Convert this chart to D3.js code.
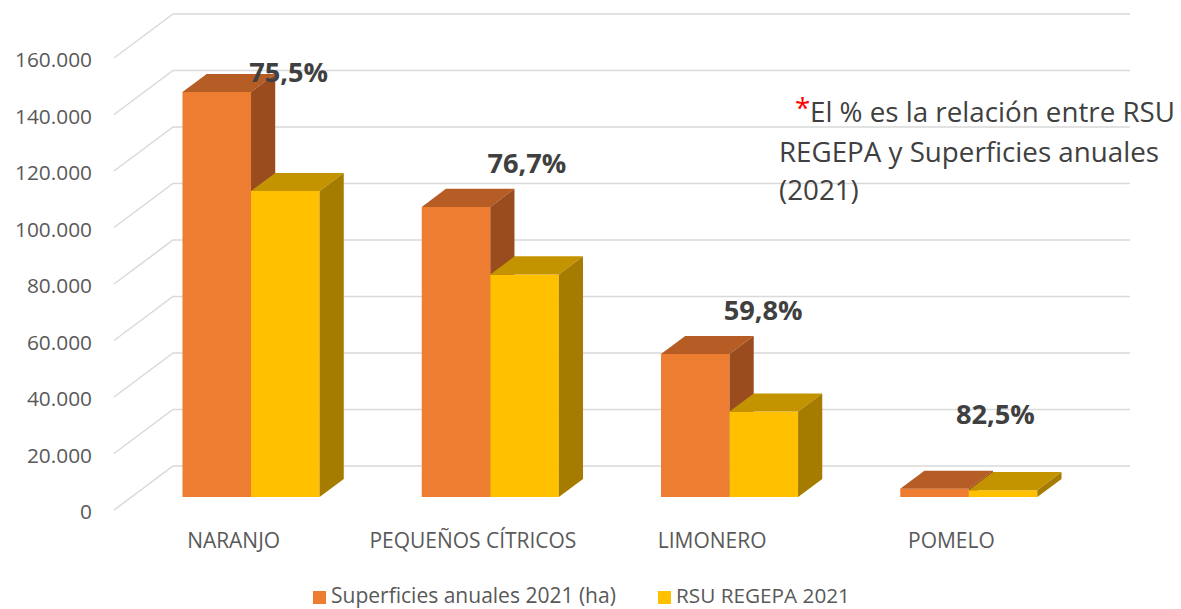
<!DOCTYPE html>
<html>
<head>
<meta charset="utf-8">
<script src="https://cdn.jsdelivr.net/npm/d3@7"></script>
<style>
  html, body { margin: 0; padding: 0; background: #ffffff; }
  svg { display: block; font-family: "Open Sans", "Noto Sans", sans-serif; }
</style>
</head>
<body>
<script>
// ---------------- DATA ----------------
const categories = ["NARANJO", "PEQUEÑOS CÍTRICOS", "LIMONERO", "POMELO"];
const seriesNames = ["Superficies anuales 2021 (ha)", "RSU REGEPA 2021"];
const superficies = [143400, 102700, 50600, 2950];
const rsu = [108300, 78800, 30300, 2430];
const pctLabels = ["75,5%", "76,7%", "59,8%", "82,5%"];
const yTicks = [0, 20000, 40000, 60000, 80000, 100000, 120000, 140000, 160000];
const noteLines = ["El % es la relación entre RSU", "REGEPA y Superficies anuales", "(2021)"];

// ---------------- LAYOUT ----------------
const W = 1181, H = 609;
const plotL = 114, plotR = 1071, yBase = 510, yTopPx = 58;
const DX = 59, DY = -44;            // depth vector of the floor
const zFront = 0.295, zBack = 0.705; // bar depth position (fraction of floor depth)
const pctLabelLayout = [{dx: 55, v: 151500}, {dx: 54, v: 119300}, {dx: 51, v: 67260}, {dx: 44, v: 30440}];
const colors = {
  front: ["#ED7D31", "#FFC000"],
  top:   ["#B65C25", "#C49300"],
  side:  ["#9A4C1E", "#A67C00"]
};
const textGrey = "#595959";

const svg = d3.select("body").append("svg").attr("width", W).attr("height", H);

const x0 = d3.scaleBand().domain(categories).range([plotL, plotR]);
const bw = x0.bandwidth();
const x1 = d3.scaleBand().domain(seriesNames).range([0.2135 * bw, 0.7865 * bw]);
const y = d3.scaleLinear().domain([0, 160000]).range([yBase, yTopPx]);
const es = d3.formatLocale({decimal: ",", thousands: ".", grouping: [3], currency: ["", "€"]});
const fmt = es.format(",");

function fitWidth(sel, target) {
  const n = sel.node();
  const len = n.getComputedTextLength();
  const fs = parseFloat(sel.attr("font-size"));
  if (len > 0) sel.attr("font-size", (fs * target / len).toFixed(2));
  return parseFloat(sel.attr("font-size"));
}

// ---------------- GRIDLINES ----------------
const grid = svg.append("g");
grid.selectAll("path").data(yTicks).join("path")
  .attr("d", v => `M${plotL},${y(v)} L${plotL + DX},${y(v) + DY} L${plotR + DX},${y(v) + DY}`)
  .attr("fill", "none").attr("stroke", "#D9D9D9").attr("stroke-width", 1.5);

// ---------------- Y AXIS LABELS ----------------
const yAxis = svg.append("g");
const yl = yAxis.selectAll("text").data(yTicks).join("text")
  .attr("x", 92).attr("y", v => y(v) + 1)
  .attr("text-anchor", "end").attr("dominant-baseline", "central")
  .attr("fill", textGrey).attr("font-size", 20)
  .text(v => fmt(v));
const axisFs = fitWidth(yl.filter(v => v === 160000), 77);
yl.attr("font-size", axisFs);

// ---------------- BARS ----------------
const series = [superficies, rsu];
const bdx = (zBack - zFront) * DX, bdy = (zBack - zFront) * DY;
const barsG = svg.append("g");
categories.forEach((cat, i) => {
  series.forEach((vals, s) => {
    const v = vals[i];
    const xl = x0(cat) + x1(seriesNames[s]) + zFront * DX;
    const xr = xl + x1.bandwidth();
    const yb = y(0) + zFront * DY;
    const yt = y(v) + zFront * DY;
    const g = barsG.append("g");
    g.append("path")
      .attr("d", `M${xl},${yt} L${xr},${yt} L${xr},${yb} L${xl},${yb} Z`)
      .attr("fill", colors.front[s]);
    g.append("path")
      .attr("d", `M${xl},${yt} L${xl + bdx},${yt + bdy} L${xr + bdx},${yt + bdy} L${xr},${yt} Z`)
      .attr("fill", colors.top[s]);
    g.append("path")
      .attr("d", `M${xr},${yt} L${xr + bdx},${yt + bdy} L${xr + bdx},${yb + bdy} L${xr},${yb} Z`)
      .attr("fill", colors.side[s]);
  });
});

// ---------------- CATEGORY LABELS ----------------
const cl = svg.append("g").selectAll("text").data(categories).join("text")
  .attr("x", d => x0(d) + bw / 2).attr("y", 548)
  .attr("text-anchor", "middle").attr("fill", textGrey).attr("font-size", 18)
  .text(d => d);
const catFs = fitWidth(cl.filter(d => d === "NARANJO"), 93);
cl.attr("font-size", catFs);

// ---------------- PERCENT LABELS ----------------
const pl = svg.append("g").selectAll("text").data(pctLabels).join("text")
  .attr("x", (d, i) => x0(categories[i]) + bw / 2 + pctLabelLayout[i].dx)
  .attr("y", (d, i) => y(pctLabelLayout[i].v))
  .attr("text-anchor", "middle").attr("fill", "#404040")
  .attr("font-weight", "bold").attr("font-size", 26)
  .text(d => d);
const pFs = fitWidth(pl.filter((d, i) => i === 0), 79);
pl.attr("font-size", pFs);

// ---------------- NOTE ----------------
const note = svg.append("g");
const l1 = note.append("text").attr("x", 810).attr("y", 122)
  .attr("fill", "#404040").attr("font-size", 24).text(noteLines[0]);
const noteFs = fitWidth(l1, 365);
note.append("text").attr("x", 795).attr("y", 118)
  .attr("fill", "#FF0000").attr("font-size", noteFs).text("*");
note.append("text").attr("x", 779).attr("y", 162)
  .attr("fill", "#404040").attr("font-size", noteFs).text(noteLines[1]);
note.append("text").attr("x", 779).attr("y", 200)
  .attr("fill", "#404040").attr("font-size", noteFs).text(noteLines[2]);

// ---------------- LEGEND ----------------
const legend = svg.append("g");
const legX = [313, 658];
const legW = [285, 174];
seriesNames.forEach((name, s) => {
  legend.append("rect").attr("x", legX[s]).attr("y", 591).attr("width", 13).attr("height", 13)
    .attr("fill", colors.front[s]);
  const t = legend.append("text").attr("x", legX[s] + 18).attr("y", 603)
    .attr("fill", textGrey).attr("font-size", 20).text(name);
  fitWidth(t, legW[s]);
});
</script>
</body>
</html>
